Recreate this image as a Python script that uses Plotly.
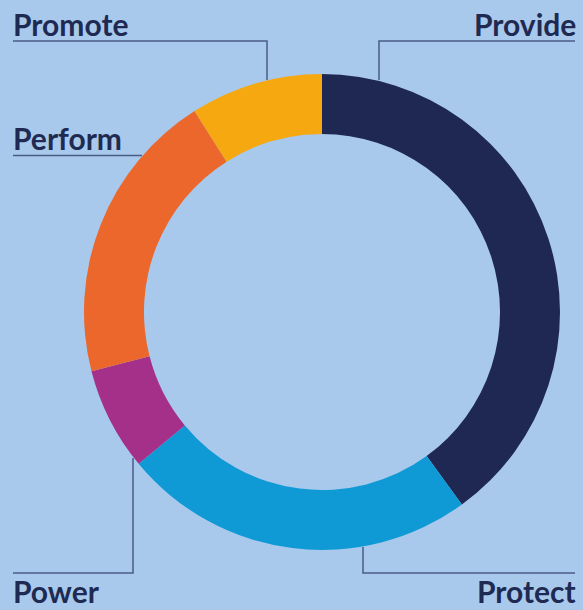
import plotly.graph_objects as go

W, H = 583, 610

labels = ["Provide", "Protect", "Power", "Perform", "Promote"]
values = [40, 24, 7, 20, 9]
colors = ["#1f2852", "#0f9ad6", "#a4308a", "#ec672c", "#f5a80f"]

BG = "#a8c9eb"
TXT = "#1f2a52"
LINE = "#4a5c86"

def px(x):
    return x / W

def py(y):
    return 1 - y / H

fig = go.Figure(go.Pie(
    labels=labels, values=values, sort=False, direction="clockwise", rotation=0,
    hole=0.748, marker=dict(colors=colors, line=dict(width=0)),
    textinfo="none", hoverinfo="label+percent",
    domain=dict(x=[px(84), px(560)], y=[py(550), py(74)]),
    showlegend=False,
))

# leader lines (pixel paths)
paths = [
    [(13, 41), (267, 41), (267, 80)],        # Promote
    [(575, 41), (379, 41), (379, 80)],       # Provide
    [(13, 155.5), (142, 155.5)],             # Perform
    [(13, 573), (133, 573), (133, 458)],     # Power
    [(575, 573), (363, 573), (363, 547)],    # Protect
]
shapes = []
for p in paths:
    d = "M " + " L ".join(f"{px(x)},{py(y)}" for x, y in p)
    shapes.append(dict(type="path", xref="paper", yref="paper", path=d,
                       line=dict(color=LINE, width=1.5)))

font = dict(family="Lato, 'Open Sans', sans-serif", size=30, color=TXT)
ann_spec = [
    ("Promote", 12, 24, "left", "middle"),
    ("Provide", 577, 24, "right", "middle"),
    ("Perform", 12, 138, "left", "middle"),
    ("Power", 12, 610, "left", "bottom"),
    ("Protect", 577, 610, "right", "bottom"),
]
annotations = [
    dict(text=f"<b>{t}</b>", x=px(x), y=py(y), xref="paper", yref="paper",
         xanchor=a, yanchor=ya, showarrow=False, font=font, borderpad=0)
    for t, x, y, a, ya in ann_spec
]

fig.update_layout(
    width=W, height=H, margin=dict(l=0, r=0, t=0, b=0),
    paper_bgcolor=BG, plot_bgcolor=BG,
    shapes=shapes, annotations=annotations,
)

fig.write_html("out.html", config={"displayModeBar": False})

with open("out.html", "r", encoding="utf-8") as f:
    html = f.read()
html = html.replace("<head>", "<head><style>html,body{margin:0;padding:0;background:%s;}</style>" % BG, 1)
with open("out.html", "w", encoding="utf-8") as f:
    f.write(html)
